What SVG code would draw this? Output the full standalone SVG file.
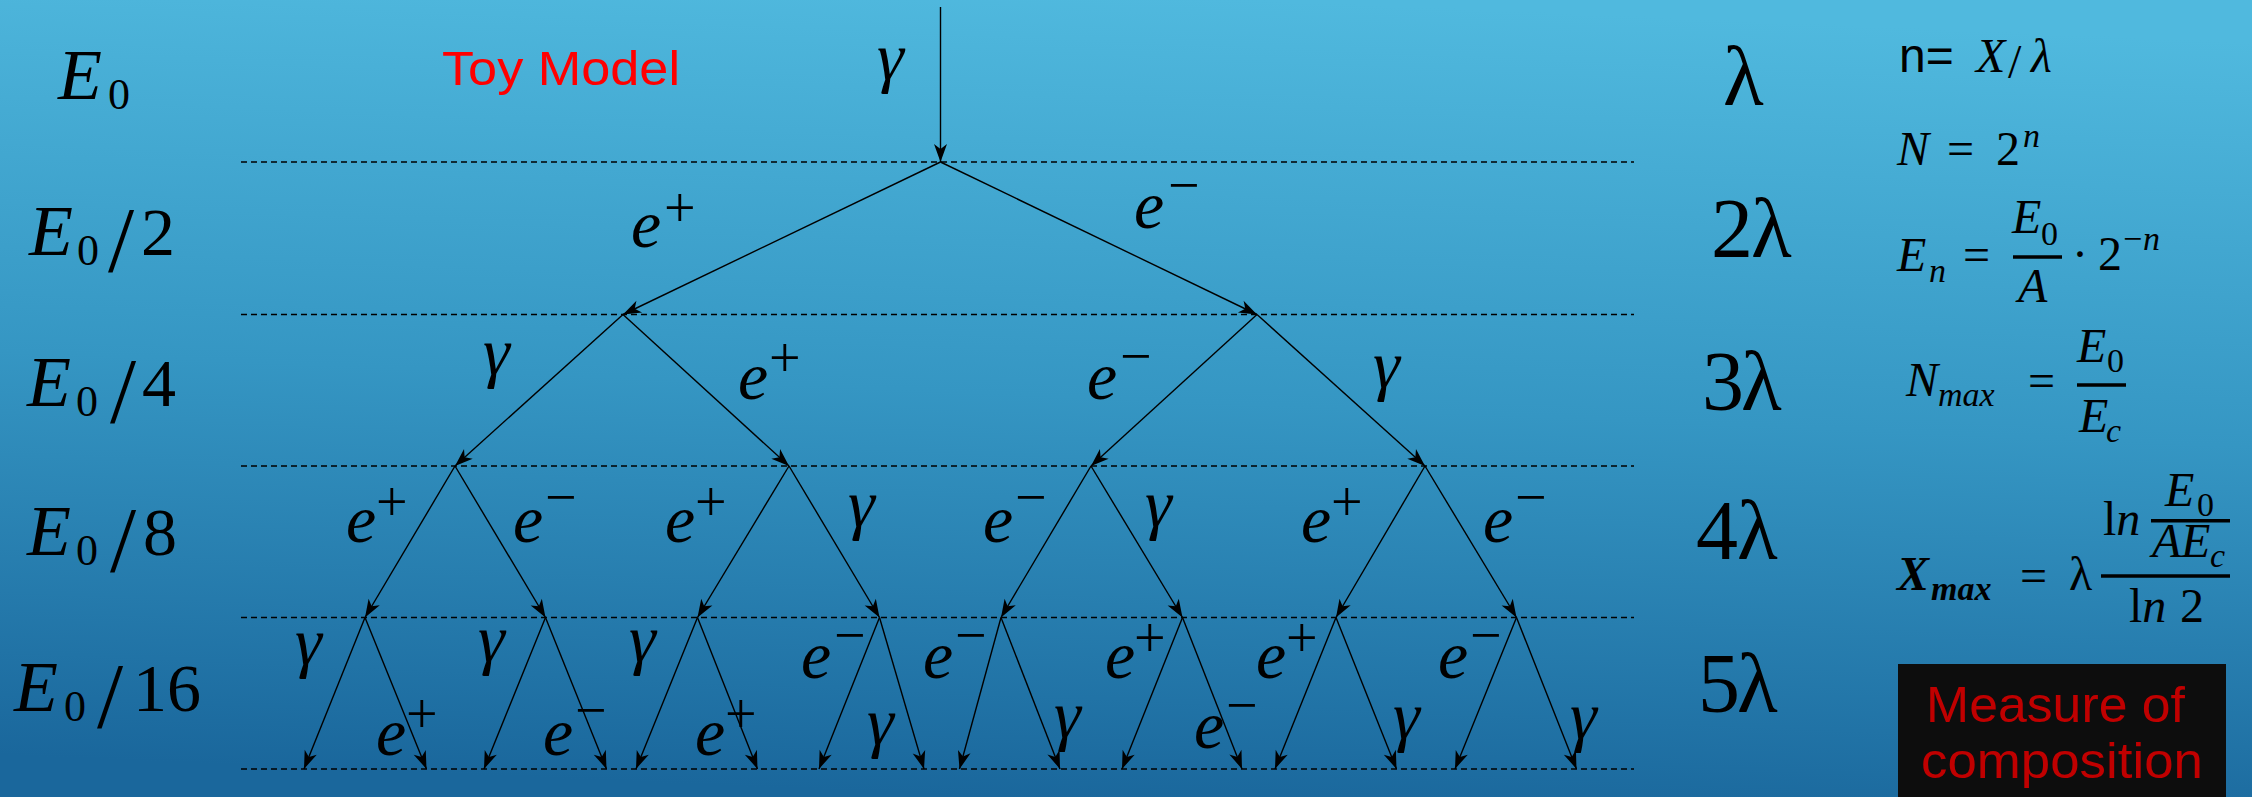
<svg xmlns="http://www.w3.org/2000/svg" width="2252" height="797" viewBox="0 0 2252 797">
<defs>
<linearGradient id="bg" x1="0.56" y1="0" x2="0.44" y2="1">
<stop offset="0" stop-color="#50b9de"/>
<stop offset="0.5" stop-color="#3596c3"/>
<stop offset="1" stop-color="#1a679c"/>
</linearGradient>
<marker id="ah" viewBox="-19 -8 20 16" markerWidth="20" markerHeight="16" refX="0" refY="0" orient="auto" markerUnits="userSpaceOnUse">
<path d="M0,0 L-18,-6.5 L-13,0 L-18,6.5 Z" fill="#000"/>
</marker>
<style>
.lvl{stroke:#000;stroke-width:1.5;stroke-dasharray:6 4;fill:none}
.arr{stroke:#000;stroke-width:1.4;fill:none;marker-end:url(#ah)}
.m{font-family:"Liberation Serif","DejaVu Serif",serif;fill:#000}
.lab{font-size:68px;font-style:italic}
.sup{font-size:56px;font-style:normal}
.side{font-size:68px}
.bigE{font-size:72px;font-style:italic}
.sub0{font-size:44px;font-style:normal}
.slash{font-size:94px;font-style:normal}
.lam{font-size:84px}
.f{font-size:48px}
.fs{font-size:34px}
.it{font-style:italic}
.up{font-style:normal}
.bar{stroke:#000;stroke-width:3.5}
.sans{font-family:"Liberation Sans","DejaVu Sans",sans-serif}
</style>
</defs>
<rect x="0" y="0" width="2252" height="797" fill="url(#bg)"/>

<g id="levels">
<line class="lvl" x1="241" y1="162" x2="1634" y2="162"/>
<line class="lvl" x1="241" y1="314.5" x2="1634" y2="314.5"/>
<line class="lvl" x1="241" y1="466" x2="1634" y2="466"/>
<line class="lvl" x1="241" y1="617.5" x2="1634" y2="617.5"/>
<line class="lvl" x1="241" y1="769" x2="1634" y2="769"/>
</g>

<g id="connectors">
<path class="arr" d="M940.5,7 L940.5,162"/>
<path class="arr" d="M940.5,162 L623,314.5"/>
<path class="arr" d="M940.5,162 L1257,314.5"/>
<path class="arr" d="M623,314.5 L455,466"/>
<path class="arr" d="M623,314.5 L789,466"/>
<path class="arr" d="M1257,314.5 L1091,466"/>
<path class="arr" d="M1257,314.5 L1425,466"/>
<path class="arr" d="M455,466 L365,617.5"/>
<path class="arr" d="M455,466 L545.5,617.5"/>
<path class="arr" d="M789,466 L697.5,617.5"/>
<path class="arr" d="M789,466 L879.5,617.5"/>
<path class="arr" d="M1091,466 L1001,617.5"/>
<path class="arr" d="M1091,466 L1182.5,617.5"/>
<path class="arr" d="M1425,466 L1336,617.5"/>
<path class="arr" d="M1425,466 L1516.5,617.5"/>
<path class="arr" d="M365,617.5 L304,769"/>
<path class="arr" d="M365,617.5 L426.5,769"/>
<path class="arr" d="M545.5,617.5 L484,769"/>
<path class="arr" d="M545.5,617.5 L606.5,769"/>
<path class="arr" d="M697.5,617.5 L636,769"/>
<path class="arr" d="M697.5,617.5 L757.5,769"/>
<path class="arr" d="M879.5,617.5 L819,769"/>
<path class="arr" d="M879.5,617.5 L924,769"/>
<path class="arr" d="M1001,617.5 L959.5,769"/>
<path class="arr" d="M1001,617.5 L1060,769"/>
<path class="arr" d="M1182.5,617.5 L1122,769"/>
<path class="arr" d="M1182.5,617.5 L1242,769"/>
<path class="arr" d="M1336,617.5 L1275,769"/>
<path class="arr" d="M1336,617.5 L1396.5,769"/>
<path class="arr" d="M1516.5,617.5 L1455,769"/>
<path class="arr" d="M1516.5,617.5 L1576.5,769"/>
</g>

<g id="particle-labels" class="m lab">
<text x="877" y="80">γ</text>
<text x="631" y="247">e<tspan class="sup" x="664" y="227">+</tspan></text>
<text x="1134" y="228">e<tspan class="sup" x="1168" y="204">−</tspan></text>

<text x="483" y="375">γ</text>
<text x="738" y="399">e<tspan class="sup" x="769" y="377">+</tspan></text>
<text x="1087" y="399">e<tspan class="sup" x="1120" y="375">−</tspan></text>
<text x="1373" y="388">γ</text>

<text x="346" y="542">e<tspan class="sup" x="376" y="521">+</tspan></text>
<text x="513" y="542">e<tspan class="sup" x="545" y="516">−</tspan></text>
<text x="665" y="542">e<tspan class="sup" x="695" y="521">+</tspan></text>
<text x="848" y="527">γ</text>
<text x="983" y="542">e<tspan class="sup" x="1015" y="516">−</tspan></text>
<text x="1145" y="527">γ</text>
<text x="1301" y="542">e<tspan class="sup" x="1331" y="521">+</tspan></text>
<text x="1483" y="542">e<tspan class="sup" x="1515" y="516">−</tspan></text>

<text x="295" y="665">γ</text>
<text x="478" y="662">γ</text>
<text x="629" y="662">γ</text>
<text x="801" y="678">e<tspan class="sup" x="834" y="654">−</tspan></text>
<text x="923" y="678">e<tspan class="sup" x="955" y="654">−</tspan></text>
<text x="1105" y="678">e<tspan class="sup" x="1134" y="657">+</tspan></text>
<text x="1256" y="678">e<tspan class="sup" x="1286" y="657">+</tspan></text>
<text x="1438" y="678">e<tspan class="sup" x="1470" y="654">−</tspan></text>

<text x="376" y="755">e<tspan class="sup" x="406" y="733">+</tspan></text>
<text x="543" y="755">e<tspan class="sup" x="575" y="729">−</tspan></text>
<text x="695" y="755">e<tspan class="sup" x="725" y="733">+</tspan></text>
<text x="867" y="745">γ</text>
<text x="1054" y="738">γ</text>
<text x="1194" y="748">e<tspan class="sup" x="1226" y="724">−</tspan></text>
<text x="1393" y="739">γ</text>
<text x="1570" y="739">γ</text>
</g>

<g id="energy-labels" class="m side">
<text y="99"><tspan class="bigE" x="58">E</tspan><tspan class="sub0" x="108" y="109">0</tspan></text>
<text y="255"><tspan class="bigE" x="29">E</tspan><tspan class="sub0" x="77" y="265">0</tspan><tspan class="slash" x="108" y="271">/</tspan><tspan x="141" y="255">2</tspan></text>
<text y="406"><tspan class="bigE" x="27">E</tspan><tspan class="sub0" x="76" y="416">0</tspan><tspan class="slash" x="110" y="422">/</tspan><tspan x="142" y="406">4</tspan></text>
<text y="555"><tspan class="bigE" x="27">E</tspan><tspan class="sub0" x="76" y="565">0</tspan><tspan class="slash" x="110" y="571">/</tspan><tspan x="143" y="555">8</tspan></text>
<text y="711"><tspan class="bigE" x="14">E</tspan><tspan class="sub0" x="64" y="721">0</tspan><tspan class="slash" x="97" y="727">/</tspan><tspan x="133" y="711">16</tspan></text>
</g>

<g id="depth-labels" class="m lam">
<text x="1723" y="105">λ</text>
<text y="257"><tspan x="1711">2</tspan><tspan x="1751">λ</tspan></text>
<text y="410"><tspan x="1702">3</tspan><tspan x="1741">λ</tspan></text>
<text y="559"><tspan x="1696">4</tspan><tspan x="1737">λ</tspan></text>
<text y="712"><tspan x="1698">5</tspan><tspan x="1737">λ</tspan></text>
</g>

<g id="formulas" class="m f">
<text y="72"><tspan class="sans" x="1899">n=</tspan><tspan class="it" x="1976">X</tspan><tspan x="2008" y="78">/</tspan><tspan class="it" x="2031" y="72">λ</tspan></text>

<text y="165"><tspan class="it" x="1897">N</tspan><tspan x="1947">=</tspan><tspan x="1996">2</tspan><tspan class="fs it" x="2023" y="147">n</tspan></text>

<text y="271"><tspan class="it" x="1897">E</tspan><tspan class="fs it" x="1929" y="282">n</tspan><tspan x="1963" y="271">=</tspan><tspan x="2072" y="270">·</tspan><tspan x="2098" y="270">2</tspan><tspan class="fs" x="2123" y="250">−</tspan><tspan class="fs it" x="2143" y="250">n</tspan></text>
<line class="bar" x1="2013" y1="257" x2="2062" y2="257"/>
<text y="233"><tspan class="it" x="2012">E</tspan><tspan class="fs" x="2041" y="245">0</tspan></text>
<text x="2018" y="302" class="it">A</text>

<text y="396"><tspan class="it" x="1906">N</tspan><tspan class="fs it" x="1938" y="406">max</tspan><tspan x="2028" y="397">=</tspan></text>
<line class="bar" x1="2077" y1="385" x2="2126" y2="385"/>
<text y="362"><tspan class="it" x="2077">E</tspan><tspan class="fs" x="2107" y="372">0</tspan></text>
<text y="432"><tspan class="it" x="2079">E</tspan><tspan class="fs it" x="2106" y="442">c</tspan></text>

<text y="590"><tspan class="it" font-weight="bold" x="1897">X</tspan><tspan class="fs it" font-weight="bold" x="1931" y="600">max</tspan><tspan x="2020" y="592">=</tspan><tspan x="2069" y="590">λ</tspan></text>
<line class="bar" x1="2101" y1="576" x2="2230" y2="576"/>
<text y="622"><tspan x="2129">l</tspan><tspan class="it">n</tspan><tspan x="2180">2</tspan></text>
<text y="535"><tspan x="2103">l</tspan><tspan class="it">n</tspan></text>
<line class="bar" x1="2151" y1="520.7" x2="2230" y2="520.7"/>
<text y="506"><tspan class="it" x="2165">E</tspan><tspan class="fs" x="2197" y="516">0</tspan></text>
<text y="557"><tspan class="it" x="2152">A</tspan><tspan class="it" x="2181">E</tspan><tspan class="fs it" x="2210" y="567">c</tspan></text>
</g>

<g id="toy-model">
<text x="442" y="85" class="sans" font-size="48" fill="#ff0000" textLength="238" lengthAdjust="spacingAndGlyphs">Toy Model</text>
</g>

<g id="composition-box">
<rect x="1898" y="664" width="328" height="133" fill="#0d0d0d"/>
<text x="1926" y="722" class="sans" font-size="50" fill="#c00000" textLength="259" lengthAdjust="spacingAndGlyphs">Measure of</text>
<text x="1921" y="778" class="sans" font-size="50" fill="#c00000" textLength="282" lengthAdjust="spacingAndGlyphs">composition</text>
</g>
</svg>
